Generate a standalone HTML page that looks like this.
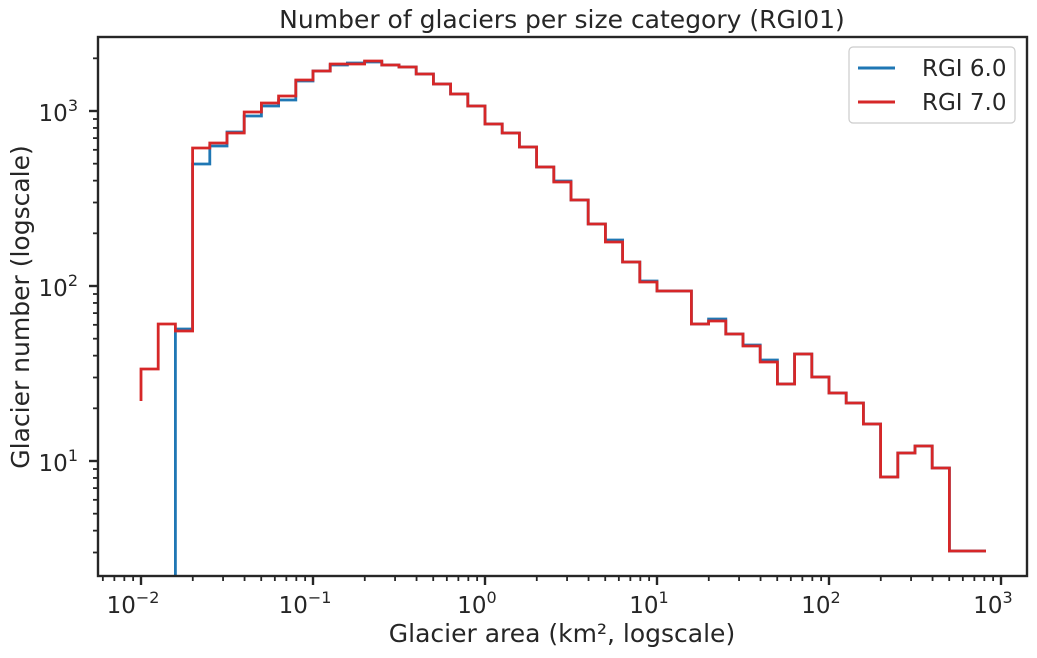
<!DOCTYPE html><html><head><style>body{margin:0;background:#fff}svg{display:block;font-family:"DejaVu Sans","Liberation Sans",sans-serif}</style></head><body>
<svg id="s" width="1037" height="658" xmlns="http://www.w3.org/2000/svg">
<rect width="1037" height="658" fill="#fff"/>
<g id="g"></g>
<rect x="98" y="37" width="929" height="539" fill="none" stroke="#262626" stroke-width="2.4"/>
<text x="562" y="28" font-size="25" text-anchor="middle" fill="#262626">Number of glaciers per size category (RGI01)</text>
<text x="562" y="642" font-size="25" text-anchor="middle" fill="#262626">Glacier area (km², logscale)</text>
<text transform="translate(29,307) rotate(-90)" font-size="25" text-anchor="middle" fill="#262626">Glacier number (logscale)</text>
<rect x="849" y="47" width="166" height="76" rx="4" fill="#fff" stroke="#ccc" stroke-width="1.2"/>
<line x1="858" y1="68" x2="895" y2="68" stroke="#1f77b4" stroke-width="3"/>
<line x1="858" y1="102" x2="895" y2="102" stroke="#d62728" stroke-width="3"/>
<text x="922" y="76" font-size="23" fill="#262626">RGI 6.0</text>
<text x="922" y="110" font-size="23" fill="#262626">RGI 7.0</text>
</svg>
<script>
var g=document.getElementById('g'),ns='http://www.w3.org/2000/svg';
function el(t,a,txt){var e=document.createElementNS(ns,t);for(var k in a)e.setAttribute(k,a[k]);if(txt!==undefined)e.textContent=txt;g.appendChild(e);return e;}
function X(l){return 141+172*(l+2);}function Y(l){return 461-175*(l-1);}
var red=[324,331,148,143,133,112,103,96,80,71,64,64,61,65,67,74,84,94,106,124,133,147,167,182,200,224,242,262,282,291,291,324,321,334,346,362,384,354,377,393,403,424,477,453,446,468,551];
var blue=[329,164,146,132,116,106,100,81,71,65,63,62,65,67,74,84,94,106,124,133,147,167,181,200,224,240,262,281,291,291,324,319,334,345,360,384,354,377,393,403,424,477,453,446,468,551];
function path(vals,startBin,startY){var x=X(-2+startBin/10),d='M'+x+','+startY;for(var i=0;i<vals.length;i++){d+=' L'+x+','+vals[i];var nx=(startBin+i==47)?986:X(-2+(startBin+i+1)/10);d+=' L'+nx+','+vals[i];x=nx;}return d;}
el('path',{d:path(blue,2,576),fill:'none',stroke:'#1f77b4','stroke-width':2.8});
el('path',{d:path([369].concat(red),0,401),fill:'none',stroke:'#d62728','stroke-width':2.8});
var sup=['−2','−1','0','1','2','3'];
for(var n=-3;n<=3;n++)for(var k=1;k<10;k++){var l=n+Math.log10(k),x=X(l);if(x<98||x>1027)continue;
 el('line',{x1:x,y1:576,x2:x,y2:k==1?585:581,stroke:'#262626','stroke-width':k==1?2.4:1.8});
 if(k==1){var t=el('text',{x:x-8,y:613,'font-size':23,'text-anchor':'middle',fill:'#262626'},'10');var ts=document.createElementNS(ns,'tspan');ts.setAttribute('dy','-10');ts.setAttribute('font-size','16');ts.textContent=sup[n+2];t.appendChild(ts);}}
for(var n=0;n<=3;n++)for(var k=1;k<10;k++){var l=n+Math.log10(k),y=Y(l);if(y<37||y>576)continue;
 el('line',{x1:98,y1:y,x2:k==1?89:93,y2:y,stroke:'#262626','stroke-width':k==1?2.4:1.8});
 if(k==1){var t=el('text',{x:78,y:y+10,'font-size':23,'text-anchor':'end',fill:'#262626'},'10');var ts=document.createElementNS(ns,'tspan');ts.setAttribute('dy','-10');ts.setAttribute('font-size','16');ts.textContent=String(n);t.appendChild(ts);}}
</script>
</body></html>
